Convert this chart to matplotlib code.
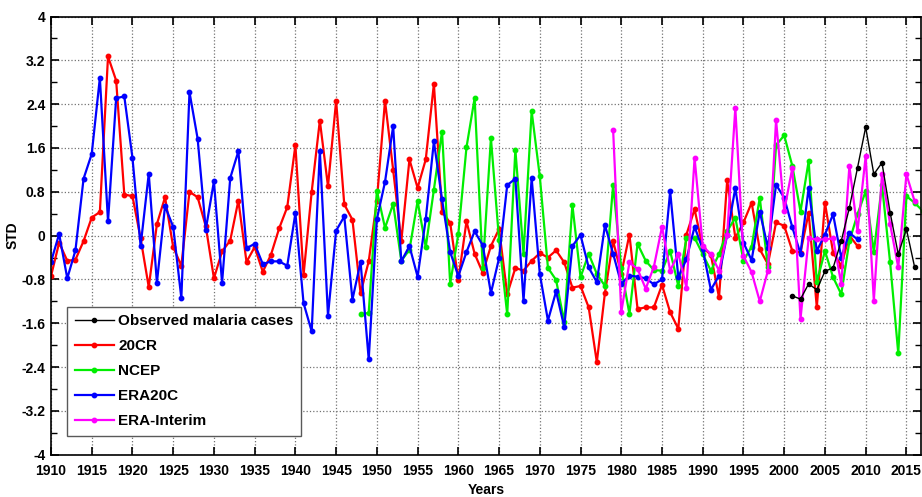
import numpy as np
import matplotlib
matplotlib.use("Agg")
import matplotlib.pyplot as plt
from matplotlib.ticker import MultipleLocator

plt.rcParams['font.family'] = ['Liberation Sans', 'DejaVu Sans']
plt.rcParams['font.weight'] = 'bold'

## standardised anomalies (STD) per year
years_20cr = list(range(1910, 2010))
std_20cr = [-0.74, -0.13, -0.46, -0.44, -0.10, 0.33, 0.43, 3.27, 2.83, 0.75,
            0.72, -0.05, -0.94, 0.21, 0.70, -0.21, -0.55, 0.80, 0.70, 0.17,
            -0.78, -0.29, -0.09, 0.64, -0.48, -0.21, -0.66, -0.35, 0.13, 0.52,
            1.65, -0.72, 0.80, 2.10, 0.90, 2.46, 0.57, 0.29, -1.05, -0.47,
            0.64, 2.46, 1.20, -0.10, 1.39, 0.87, 1.39, 2.77, 0.44, 0.23,
            -0.81, 0.26, -0.33, -0.68, -0.19, 0.12, -1.07, -0.59, -0.64, -0.46,
            -0.32, -0.40, -0.27, -0.49, -0.95, -0.92, -1.31, -2.31, -1.04, -0.10,
            -0.70, 0.02, -1.34, -1.31, -1.31, -0.90, -1.40, -1.70, 0.02, 0.48,
            -0.22, -0.35, -1.13, 1.01, -0.04, 0.24, 0.60, -0.25, -0.52, 0.24,
            0.18, -0.28, -0.31, 0.42, -1.31, 0.60, -0.31, -0.55, 0.00, -0.19]

years_era20c = list(range(1910, 2010))
std_era20c = [-0.48, 0.03, -0.78, -0.27, 1.04, 1.49, 2.88, 0.26, 2.51, 2.54,
              1.42, -0.19, 1.13, -0.86, 0.54, 0.16, -1.14, 2.62, 1.77, 0.11,
              0.99, -0.86, 1.05, 1.54, -0.23, -0.15, -0.52, -0.47, -0.47, -0.55,
              0.41, -1.23, -1.75, 1.55, -1.46, 0.09, 0.35, -1.17, -0.48, -2.26,
              0.30, 0.98, 2.00, -0.47, -0.19, -0.75, 0.30, 1.72, 0.66, -0.30,
              -0.74, -0.30, 0.08, -0.18, -1.05, -0.41, 0.92, 1.04, -1.19, 1.05,
              -0.70, -1.55, -1.02, -1.67, -0.19, 0.01, -0.58, -0.85, 0.19, -0.33,
              -0.88, -0.73, -0.75, -0.78, -0.89, -0.80, 0.81, -0.76, -0.43, 0.16,
              -0.25, -0.99, -0.73, 0.02, 0.87, -0.13, -0.45, 0.44, -0.22, 0.93,
              0.69, 0.15, -0.33, 0.87, -0.28, 0.02, 0.39, -0.40, 0.05, -0.07]

years_ncep = list(range(1948, 2018))
std_ncep = [-1.44, -1.41,
            0.82, 0.14, 0.58, -0.46, -0.26, 0.63, -0.21, 0.84, 1.90, -0.88,
            0.03, 1.61, 2.51, -0.59, 1.78, -0.08, -1.44, 1.57, -0.33, 2.27,
            1.08, -0.59, -0.81, -1.58, 0.56, -0.76, -0.33, -0.70, -0.92, 0.93,
            -0.60, -1.43, -0.15, -0.46, -0.63, -0.64, -0.28, -0.92, -0.04, -0.04,
            -0.34, -0.64, -0.34, 0.08, 0.33, -0.46, -0.20, 0.69, -0.58, 1.65,
            1.83, 1.27, 0.44, 1.36, -0.85, -0.28, -0.76, -1.07, -0.10, 0.39,
            0.81, -0.30, 0.93, -0.49, -2.15, 0.72, 0.60, 0.45]

years_erai = list(range(1979, 2017))
std_erai = [1.93,
            -1.40, -0.49, -0.61, -0.97, -0.57, 0.16, -0.64, -0.33, -0.95, 1.42,
            -0.19, -0.34, -0.64, 0.02, 2.33, -0.37, -0.67, -1.20, -0.64, 2.11,
            0.45, 1.24, -1.52, -0.05, -0.07, -0.07, -0.05, -0.88, 1.27, 0.08,
            1.45, -1.19, 1.12, 0.21, -0.58, 1.12, 0.63]

years_obs = list(range(2001, 2017))
std_obs = [-1.10, -1.16, -0.88, -0.99, -0.65, -0.59, -0.10, 0.51, 1.24,
           1.98, 1.12, 1.33, 0.42, -0.34, 0.12, -0.57]

y_ticks = [-4, -3.2, -2.4, -1.6, -0.8, 0, 0.8, 1.6, 2.4, 3.2, 4]
y_ticklabels = ['-4', '-3.2', '-2.4', '-1.6', '-0.8', '0', '0.8', '1.6', '2.4', '3.2', '4']
x_ticks = list(range(1910, 2016, 5))

fig = plt.figure(figsize=(9.22, 4.97), dpi=100)
ax = fig.add_axes([0.0553, 0.0851, 0.9437, 0.8817])

h_red, = ax.plot(years_20cr, std_20cr, '-o', color='#ff0000', lw=1.6, ms=3.2, label='20CR')
h_grn, = ax.plot(years_ncep, std_ncep, '-o', color='#00ee00', lw=1.6, ms=3.2, label='NCEP')
h_blu, = ax.plot(years_era20c, std_era20c, '-o', color='#0000ff', lw=1.6, ms=3.2, label='ERA20C')
h_mag, = ax.plot(years_erai, std_erai, '-o', color='#ff00ff', lw=1.6, ms=3.2, label='ERA-Interim')
h_blk, = ax.plot(years_obs, std_obs, '-o', color='k', lw=1.0, ms=3.0, label='Observed malaria cases')

ax.set_xlim(1910, 2016.8)
ax.set_ylim(-4, 4)
ax.set_xticks(x_ticks)
ax.set_yticks(y_ticks)
ax.set_yticklabels(y_ticklabels)
ax.yaxis.set_minor_locator(MultipleLocator(0.4))
ax.tick_params(which='both', direction='in', top=True, right=True, labelsize=10)
ax.tick_params(axis='x', pad=7)
ax.tick_params(axis='y', pad=4)
ax.tick_params(which='major', length=6, width=1.2)
ax.tick_params(which='minor', length=4, width=1.0)
for lab in ax.get_xticklabels() + ax.get_yticklabels():
    lab.set_fontweight('bold')
for sp in ax.spines.values():
    sp.set_linewidth(1.2)
ax.grid(True, which='major', linestyle=':', color='0.45', lw=0.9)

ax.set_xlabel('Years', fontsize=10, fontweight='bold', labelpad=3)
ax.set_ylabel('STD', fontsize=10, fontweight='bold', labelpad=1)

leg = ax.legend(handles=[h_blk, h_red, h_grn, h_blu, h_mag], loc='lower left',
                bbox_to_anchor=(0.0095, 0.025), fancybox=False, edgecolor='0.35',
                framealpha=1, handlelength=2.6, handletextpad=0.25,
                labelspacing=0.72, borderpad=0.5, prop={'weight': 'bold', 'size': 11})
leg.get_frame().set_linewidth(1.0)

fig.savefig('out.png', dpi=100)
